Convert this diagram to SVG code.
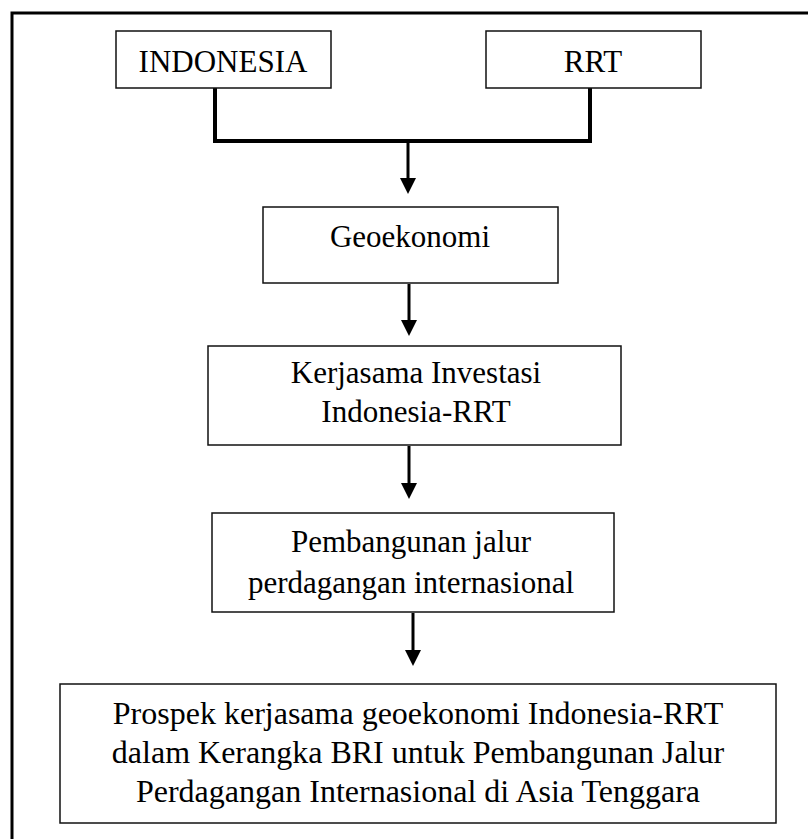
<svg xmlns="http://www.w3.org/2000/svg" width="808" height="839" viewBox="0 0 808 839">
  <style>
    .box { fill: #ffffff; stroke: #111111; stroke-width: 1.5; }
    .frame { fill: none; stroke: #000000; stroke-width: 3; }
    .conn { fill: none; stroke: #000000; stroke-width: 4; }
    .arr { fill: none; stroke: #000000; stroke-width: 3; }
    .head { fill: #000000; }
    .t { font-family: "Liberation Serif", "Times New Roman", serif; font-size: 31px; fill: #000000; text-anchor: middle; }
    .t2 { font-size: 32px; }
  </style>
  <rect width="808" height="839" fill="#ffffff"/>
  <rect class="frame" x="12" y="13" width="800" height="830"/>

  <g id="connectors">
    <path class="conn" d="M215,88 V141 H590 V88"/>
    <path class="arr" d="M408,141 V180"/>
    <path class="head" d="M400,178 L416,178 L408,194 Z"/>
    <path class="arr" d="M409,284 V322"/>
    <path class="head" d="M401,320 L417,320 L409,336 Z"/>
    <path class="arr" d="M409,446 V485"/>
    <path class="head" d="M401,483 L417,483 L409,499 Z"/>
    <path class="arr" d="M413,613 V652"/>
    <path class="head" d="M405,650 L421,650 L413,666 Z"/>
  </g>

  <g id="indonesia">
    <rect class="box" x="116" y="31" width="215" height="57"/>
    <text class="t" x="223" y="72">INDONESIA</text>
  </g>
  <g id="rrt">
    <rect class="box" x="486" y="31" width="215" height="57"/>
    <text class="t" x="593" y="72">RRT</text>
  </g>
  <g id="geoekonomi">
    <rect class="box" x="263" y="207" width="295" height="76"/>
    <text class="t" x="410" y="247">Geoekonomi</text>
  </g>
  <g id="kerjasama">
    <rect class="box" x="208" y="346" width="413" height="99"/>
    <text class="t" x="416" y="383">Kerjasama Investasi</text>
    <text class="t" x="416" y="422">Indonesia-RRT</text>
  </g>
  <g id="pembangunan">
    <rect class="box" x="212" y="513" width="402" height="99"/>
    <text class="t" x="411" y="552">Pembangunan jalur</text>
    <text class="t" x="411" y="593">perdagangan internasional</text>
  </g>
  <g id="prospek">
    <rect class="box" x="60" y="684" width="716" height="139"/>
    <text class="t t2" x="418" y="724">Prospek kerjasama geoekonomi Indonesia-RRT</text>
    <text class="t t2" x="418" y="763">dalam Kerangka BRI untuk Pembangunan Jalur</text>
    <text class="t t2" x="418" y="802">Perdagangan Internasional di Asia Tenggara</text>
  </g>
</svg>
